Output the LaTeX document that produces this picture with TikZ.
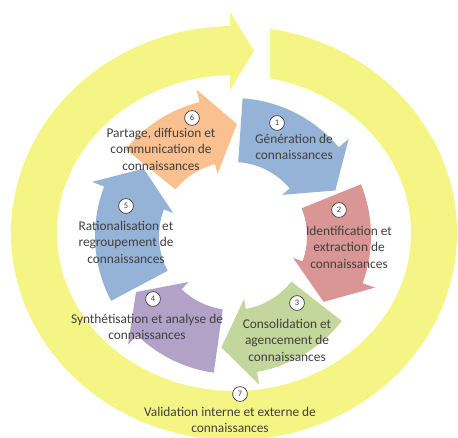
\documentclass[tikz,border=0pt]{standalone}
\usepackage{fontspec}
\setmainfont{Carlito}
\usepackage{xcolor}
\usepackage{tikz}
\usetikzlibrary{arrows.meta,positioning,calc}
\definecolor{ringyellow}{RGB}{244,245,133}
\definecolor{arblue}{RGB}{149,179,215}
\definecolor{arred}{RGB}{217,150,148}
\definecolor{argreen}{RGB}{195,214,155}
\definecolor{arpurple}{RGB}{179,162,199}
\definecolor{arorange}{RGB}{250,192,144}
\definecolor{txtgray}{RGB}{64,64,64}
\tikzset{
  lbl/.style={align=center,text=txtgray,font=\fontsize{9.5}{11.8}\selectfont,inner sep=1pt},
  num/.style={circle,draw=txtgray,line width=0.5pt,fill=white,minimum size=0.37cm,inner sep=0pt,text=txtgray,font=\fontsize{6}{7}\selectfont},
}
\begin{document}
\begin{tikzpicture}[x=0.025cm,y=0.025cm]
\useasboundingbox (0,0) rectangle (458,437);
% outer yellow cycle
\begin{scope}[shift={(234,204)}]
\fill[ringyellow] (80.71:223 and 207) arc[start angle=80.71,end angle=-268.97,x radius=223,y radius=207] -- (-4,221) -- (20,182) -- (-4,143) -- (-268.71:177 and 158) arc[start angle=-268.71,end angle=78.26,x radius=177,y radius=158] -- cycle;
\end{scope}
% six inner arrows
\begin{scope}[shift={(233,201)}]
\foreach \col/\ta/\hb/\tp in {arblue/86/40/24, arred/22/-20/-36, argreen/-38/-80/-96, arpurple/-98/-134/-150, arblue/208/159/143, arorange/141/104/88}
  {\fill[\col] (\ta:138) arc[start angle=\ta,end angle=\hb,radius=138] -- (\hb:151) -- (\tp:112) -- (\hb:64) -- (\hb:74) arc[start angle=\hb,end angle=\ta,radius=74] -- cycle;}
\end{scope}
% labels
\node[lbl] (gen) at (294,290) {Génération de\\connaissances};
\node[lbl] (ident) at (349,190) {Identification et\\extraction de\\connaissances};
\node[lbl] (conso) at (287,97) {Consolidation et\\agencement de\\connaissances};
\node[lbl] (synth) at (147,110) {Synthétisation et analyse de\\connaissances};
\node[lbl] (ratio) at (126,195) {Rationalisation et\\regroupement de\\connaissances};
\node[lbl] (part) at (161,288) {Partage, diffusion et\\communication de\\connaissances};
\node[lbl] (valid) at (230,17) {Validation interne et externe de\\connaissances};
% step numbers
\node[num] (n1) at (277,314) {1};
\node[num] (n2) at (339,227) {2};
\node[num] (n3) at (297,134) {3};
\node[num] (n4) at (153,138) {4};
\node[num] (n5) at (126,231) {5};
\node[num] (n6) at (192,319) {6};
\node[num] (n7) at (240,43) {7};
\end{tikzpicture}
\end{document}
